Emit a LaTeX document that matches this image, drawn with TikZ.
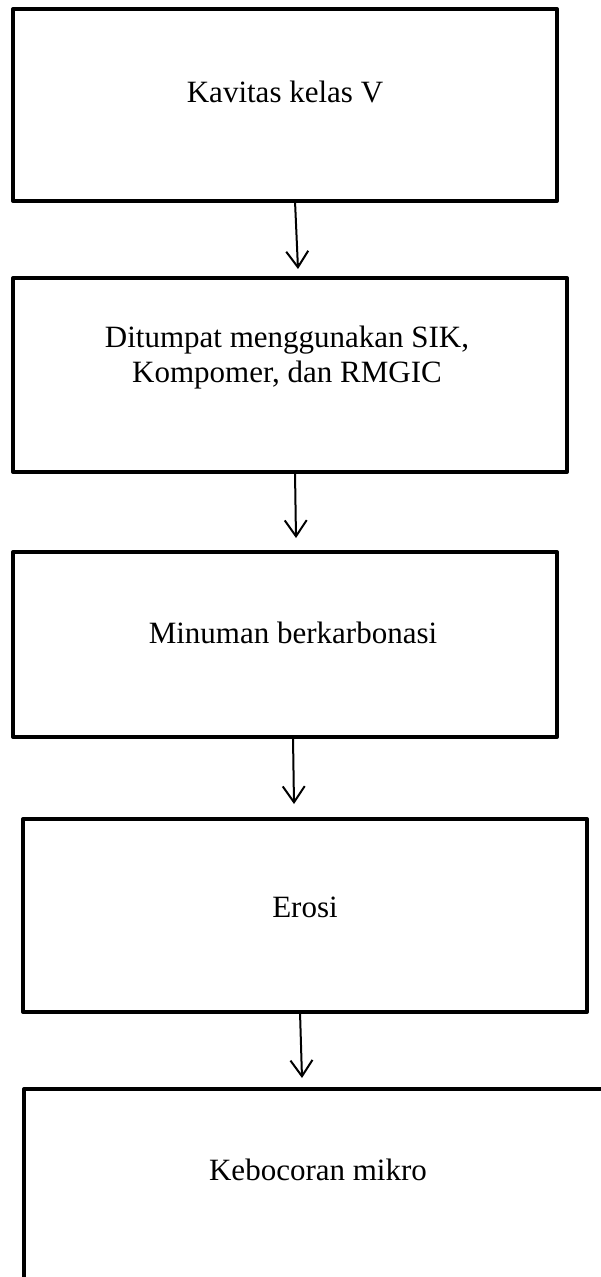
\documentclass[tikz,border=0pt]{standalone}
\usepackage{fontspec}
\setmainfont{Liberation Serif}
\usetikzlibrary{arrows.meta, positioning}

\begin{document}
\begin{tikzpicture}[
                    x=1pt, y=1pt,
                    box/.style={draw, line width=4pt, line join=round, outer sep=0pt, inner sep=0pt},
                    txt/.style={font=\fontsize{31}{35}\selectfont, align=center},
                    arr/.style={line width=2pt, -{Straight Barb[length=16pt, width=22pt, line width=2pt]}}
                ]
                    \useasboundingbox (0,0) rectangle (601,-1277);
                    \node[box, minimum width=544pt, minimum height=192pt] (kavitas) at (285,-105) {};
                    \node[box, minimum width=554pt, minimum height=194pt] (tumpat) at (290,-375) {};
                    \node[box, minimum width=544pt, minimum height=185pt] (minuman) at (285,-644.5) {};
                    \node[box, minimum width=564pt, minimum height=193pt] (erosi) at (305,-915.5) {};
                    \node[box, minimum width=591pt, minimum height=210pt] (bocor) at (319.5,-1194) {};
                    \node[txt] (kavitasT) at (285,-92) {Kavitas kelas V};
                    \node[txt] (tumpatT) at (287,-358) {Ditumpat menggunakan SIK,\\Kompomer, dan RMGIC};
                    \node[txt] (minumanT) at (293,-633) {Minuman berkarbonasi};
                    \node[txt] (erosiT) at (305,-907) {Erosi};
                    \node[txt] (bocorT) at (318,-1170) {Kebocoran mikro};
                    \draw[arr] ([xshift=10pt]kavitas.south) -- ([xshift=8pt, yshift=9pt]tumpat.north);
                    \draw[arr] ([xshift=5pt]tumpat.south) -- ([xshift=11pt, yshift=14pt]minuman.north);
                    \draw[arr] ([xshift=8pt]minuman.south) -- ([xshift=-11pt, yshift=15pt]erosi.north);
                    \draw[arr] ([xshift=-5pt]erosi.south) -- ([xshift=-17.5pt, yshift=11pt]bocor.north);
                \end{tikzpicture}
\end{document}
